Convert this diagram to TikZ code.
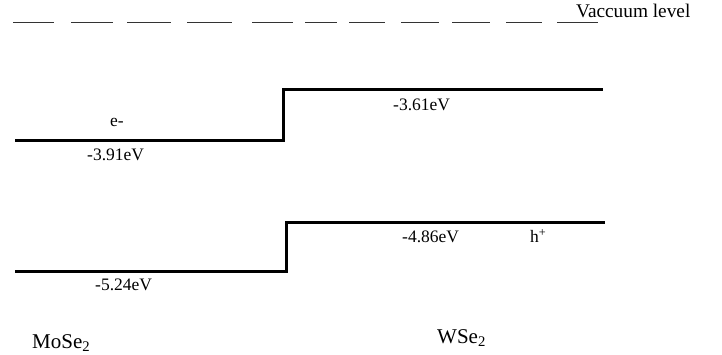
\documentclass[tikz,border=0pt]{standalone}
\usepackage{fontspec}
\setmainfont{Liberation Serif}
\begin{document}
\begin{tikzpicture}[x=1pt,y=-1pt,
  band/.style={line width=3pt,line join=miter},
  vac/.style={line width=1.7pt,draw=black!80},
  lbl/.style={anchor=base west,inner sep=0pt,font=\fontsize{17.5}{20}\selectfont},
  big/.style={anchor=base west,inner sep=0pt,font=\fontsize{21}{24}\selectfont}]
\useasboundingbox (0,0) rectangle (722,355);
% vacuum level dashes
\foreach \a/\b in {13/54,71/113,127/171,187/232,252/293,305/337,349/385,401/439,452/490,506/542,557/598}
  \draw[vac] (\a,22.5) -- (\b,22.5);
\node[lbl,font=\fontsize{19.3}{22}\selectfont] (vac) at (576,18) {Vaccuum level};
% conduction band
\coordinate (c1) at (15,140.5);
\coordinate (c2) at (283,140.5);
\coordinate (c3) at (283,90);
\coordinate (c4) at (603,90);
\draw[band] (c1) -- (c2) -- (c3) -- (c4);
% valence band
\coordinate (v1) at (15,271.5);
\coordinate (v2) at (286,271.5);
\coordinate (v3) at (286,222.5);
\coordinate (v4) at (605,222.5);
\draw[band] (v1) -- (v2) -- (v3) -- (v4);
% labels
\node[lbl] (e) at (110,127) {e-};
\node[lbl] (m391) at (87,161) {-3.91eV};
\node[lbl] (m361) at (393,111) {-3.61eV};
\node[lbl] (m524) at (95,290) {-5.24eV};
\node[lbl] (m486) at (402,243) {-4.86eV};
\node[lbl] (h) at (530,243) {h\textsuperscript{+}};
\node[big] (mose) at (32,348) {MoSe\textsubscript{2}};
\node[big] (wse) at (437,343) {WSe\textsubscript{2}};
\end{tikzpicture}
\end{document}
